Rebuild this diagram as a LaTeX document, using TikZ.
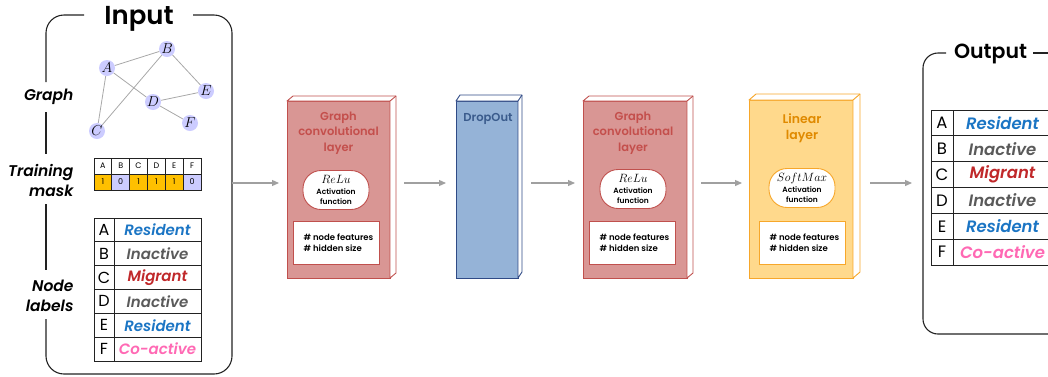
\documentclass[tikz,border=0pt]{standalone}
\usepackage{fontspec}
\setmainfont{Poppins}[BoldFont={Poppins SemiBold}, BoldItalicFont={Poppins SemiBold Italic}]
\usetikzlibrary{arrows.meta}

\newcommand\fsz[2]{\fontsize{#1}{#2}\selectfont}

\definecolor{gcnfill}{HTML}{D99694}
\definecolor{gcnline}{HTML}{C0504D}
\definecolor{gcntext}{HTML}{C44F4C}
\definecolor{dropfill}{HTML}{95B3D7}
\definecolor{dropline}{HTML}{2F4A86}
\definecolor{droptext}{HTML}{3A5B8C}
\definecolor{linfill}{HTML}{FFD98C}
\definecolor{linline}{HTML}{F7A72A}
\definecolor{lintext}{HTML}{E08A00}
\definecolor{lav}{HTML}{CCCCFF}
\definecolor{maskon}{HTML}{FFC000}
\definecolor{cres}{HTML}{1B75C4}
\definecolor{cina}{HTML}{5A5A5A}
\definecolor{cmig}{HTML}{C0282A}
\definecolor{ccoa}{HTML}{FF69B4}
\definecolor{arrgray}{HTML}{A0A0A0}
\definecolor{edgegray}{HTML}{A8A8A8}
\definecolor{ink}{HTML}{222222}

\tikzset{
  frame/.style={draw=ink, line width=1.1pt},
  face/.style={rectangle, outer sep=0pt, inner sep=0pt, line width=1pt},
  side/.style={fill=white, line width=0.9pt, line join=round},
  arr/.style={draw=arrgray, line width=1.2pt, -{Triangle[length=7pt,width=6pt]}},
  gnode/.style={circle, fill=lav, inner sep=0pt, minimum size=16pt, font=\fsz{14}{16}},
  gedge/.style={draw=edgegray, line width=0.8pt},
  cell/.style={rectangle, draw=ink, line width=0.9pt, inner sep=0pt, outer sep=0pt},
  sidelabel/.style={align=right, anchor=east, font=\fsz{15.5}{20}\bfseries\itshape},
  title/.style={align=center, font=\fsz{11.5}{15.5}\bfseries},
  actfn/.style={rectangle, rounded corners=18pt, fill=white, line width=0.9pt,
    minimum width=66pt, minimum height=39pt, inner sep=0pt},
  infobox/.style={rectangle, fill=white, line width=0.9pt, minimum width=86pt,
    minimum height=43pt, inner sep=0pt},
  infotext/.style={align=left, anchor=west, font=\fsz{8.5}{11}\bfseries},
  acttext/.style={align=center, inner sep=0pt},
}

\begin{document}
\begin{tikzpicture}[x=1pt, y=-1pt]
\useasboundingbox (0,0) rectangle (1048,376);

% ---------- Input frame ----------
\node[anchor=base, font=\fsz{26}{30}\bfseries] (intitle) at (139,24) {Input};
\draw[frame, rounded corners=18pt] (84,15) -- (46,15) -- (46,82);
\draw[frame] (46,112) -- (46,154);
\draw[frame] (46,204) -- (46,270);
\draw[frame, rounded corners=18pt] (46,319) -- (46,374) -- (232,374) -- (232,15) -- (193,15);
\coordinate (inR) at (232,183);

\node[sidelabel] (lgraph) at (77,97) {Graph};
\node[sidelabel] (lmask) at (77,180) {Training\\mask};
\node[sidelabel] (llab) at (77,296) {Node\\labels};

% ---------- input graph ----------
\node[gnode] (A) at (107,68) {$A$};
\node[gnode] (B) at (167,49) {$B$};
\node[gnode] (E) at (206,91) {$E$};
\node[gnode] (D) at (153,102) {$D$};
\node[gnode] (F) at (190,123) {$F$};
\node[gnode] (C) at (97,131) {$C$};
\draw[gedge] (A) -- (B);
\draw[gedge] (A) -- (C);
\draw[gedge] (A) -- (D);
\draw[gedge] (B) -- (C);
\draw[gedge] (B) -- (E);
\draw[gedge] (D) -- (E);
\draw[gedge] (D) -- (F);

% ---------- training mask ----------
\foreach \l/\v/\c [count=\i from 0] in {A/1/maskon,B/0/lav,C/1/maskon,D/1/maskon,E/1/maskon,F/0/lav}{
  \node[cell, fill=white, minimum width=17.83pt, minimum height=16pt, font=\fsz{8}{9}]
    (mh\l) at (94+8.92+17.83*\i,166) {\l};
  \node[cell, fill=\c, minimum width=17.83pt, minimum height=16pt, font=\fsz{8}{9}]
    (mv\l) at (94+8.92+17.83*\i,182) {\v};
}

% ---------- node labels (input) ----------
\foreach \l/\t/\c [count=\i from 0] in {A/Resident/cres,B/Inactive/cina,C/Migrant/cmig,D/Inactive/cina,E/Resident/cres,F/Co-active/ccoa}{
  \node[cell, minimum width=20pt, minimum height=23.83pt, font=\fsz{16}{18}]
    (il\l) at (104,218+11.92+23.83*\i) {\l};
  \node[cell, minimum width=87pt, minimum height=23.83pt, text=\c, font=\fsz{15}{17}\bfseries\itshape]
    (it\l) at (157.5,218+11.92+23.83*\i) {\t};
}

% ---------- GCN layer 1 ----------
\node[face, fill=gcnfill, draw=gcnline, minimum width=103pt, minimum height=177pt] (gcn1) at (338.5,189.5) {};
\draw[side, draw=gcnline] (gcn1.north west) -- ++(6,-5) -- ([shift={(6,-5)}]gcn1.north east)
  -- ([shift={(6,-5)}]gcn1.south east) -- (gcn1.south east) -- (gcn1.north east) -- cycle;
\draw[draw=gcnline, line width=0.9pt] (gcn1.north east) -- ++(6,-5);
\node[title, text=gcntext] (gcn1t) at (338.5,133) {Graph\\convolutional\\layer};
\node[actfn, draw=gcnline] (gcn1a) at (336,190) {};
\node[acttext] (gcn1at) at (336,190)
  {{\fsz{12}{12}$ReLu$}\\[-1pt]{\fsz{7.5}{10}\bfseries Activation}\\[-2pt]{\fsz{7.5}{10}\bfseries function}};
\node[infobox, draw=gcnline] (gcn1b) at (336,242.5) {};
\node[infotext] (gcn1bt) at (300,242.5) {\# node features\\\# hidden size};

% ---------- DropOut ----------
\node[face, fill=dropfill, draw=dropline, minimum width=62pt, minimum height=177pt] (drop) at (487,189.5) {};
\draw[side, draw=dropline] (drop.north west) -- ++(4,-6) -- ([shift={(4,-6)}]drop.north east)
  -- ([shift={(4,-6)}]drop.south east) -- (drop.south east) -- (drop.north east) -- cycle;
\draw[draw=dropline, line width=0.9pt] (drop.north east) -- ++(4,-6);
\node[font=\fsz{11.5}{13}\bfseries, text=droptext] (dropt) at (488,119) {DropOut};

% ---------- GCN layer 2 ----------
\node[face, fill=gcnfill, draw=gcnline, minimum width=104pt, minimum height=177pt] (gcn2) at (635,189.5) {};
\draw[side, draw=gcnline] (gcn2.north west) -- ++(6,-5) -- ([shift={(6,-5)}]gcn2.north east)
  -- ([shift={(6,-5)}]gcn2.south east) -- (gcn2.south east) -- (gcn2.north east) -- cycle;
\draw[draw=gcnline, line width=0.9pt] (gcn2.north east) -- ++(6,-5);
\node[title, text=gcntext] (gcn2t) at (633,133) {Graph\\convolutional\\layer};
\node[actfn, draw=gcnline] (gcn2a) at (633,189) {};
\node[acttext] (gcn2at) at (633,189)
  {{\fsz{12}{12}$ReLu$}\\[-1pt]{\fsz{7.5}{10}\bfseries Activation}\\[-2pt]{\fsz{7.5}{10}\bfseries function}};
\node[infobox, draw=gcnline] (gcn2b) at (632.5,242.5) {};
\node[infotext] (gcn2bt) at (596,242.5) {\# node features\\\# hidden size};

% ---------- Linear layer ----------
\node[face, fill=linfill, draw=linline, minimum width=104pt, minimum height=178pt] (lin) at (801,189) {};
\draw[side, draw=linline] (lin.north west) -- ++(7,-6) -- ([shift={(7,-6)}]lin.north east)
  -- ([shift={(7,-6)}]lin.south east) -- (lin.south east) -- (lin.north east) -- cycle;
\draw[draw=linline, line width=0.9pt] (lin.north east) -- ++(7,-6);
\node[title, text=lintext, font=\fsz{12.5}{16}\bfseries] (lint) at (802,128) {Linear\\layer};
\node[actfn, draw=linline] (lina) at (802,188) {};
\node[acttext] (linat) at (802,188)
  {{\fsz{12}{12}$SoftMax$}\\[-1pt]{\fsz{7.5}{10}\bfseries Activation}\\[-2pt]{\fsz{7.5}{10}\bfseries function}};
\node[infobox, draw=linline] (linb) at (802,242.5) {};
\node[infotext] (linbt) at (766,242.5) {\# node features\\\# hidden size};

% ---------- Output frame ----------
\node[anchor=base, font=\fsz{20.5}{24}\bfseries] (outtitle) at (990.5,58) {Output};
\draw[frame, rounded corners=15pt] (946,53) -- (923,53) -- (923,334) -- (1060,334);
\draw[frame] (1033,53) -- (1060,53);
\coordinate (outL) at (923,183);

\foreach \l/\t/\c [count=\i from 0] in {A/Resident/cres,B/Inactive/cina,C/Migrant/cmig,D/Inactive/cina,E/Resident/cres,F/Co-active/ccoa}{
  \node[cell, minimum width=22pt, minimum height=25.83pt, font=\fsz{16.5}{18}]
    (ol\l) at (942,110+12.92+25.83*\i) {\l};
  \node[cell, minimum width=98pt, minimum height=25.83pt, text=\c, font=\fsz{16.5}{19}\bfseries\itshape]
    (ot\l) at (1002.5,110+12.92+25.83*\i) {\t};
}

% ---------- connectors ----------
\draw[arr, shorten >=8pt] (inR) -- (inR -| gcn1.west);
\draw[arr, shorten <=14pt, shorten >=10pt] (gcn1.east |- inR) -- (drop.west |- inR);
\draw[arr, shorten <=13pt, shorten >=8pt] (drop.east |- inR) -- (gcn2.west |- inR);
\draw[arr, shorten <=14pt, shorten >=7pt] (gcn2.east |- inR) -- (lin.west |- inR);
\draw[arr, shorten <=17pt, shorten >=11pt] (lin.east |- inR) -- (outL);
\end{tikzpicture}
\end{document}
